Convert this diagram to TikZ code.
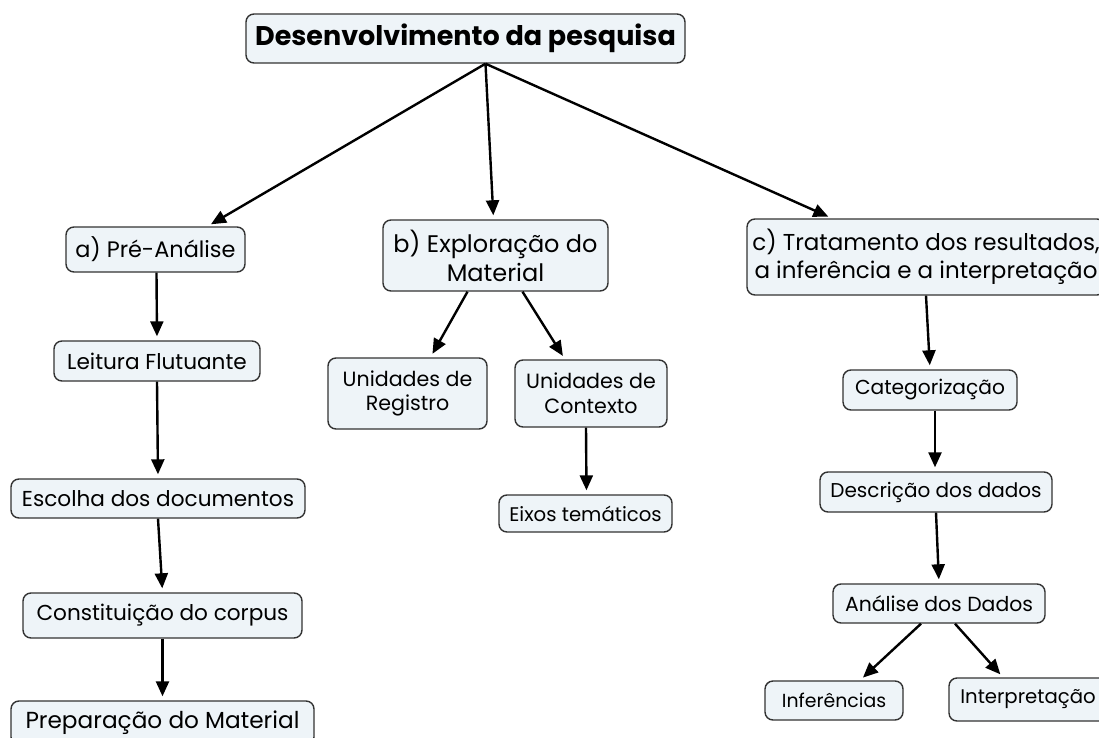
\documentclass[tikz,border=0pt]{standalone}
\usepackage{fontspec}
\setmainfont{Poppins}
\usetikzlibrary{arrows.meta,calc}
\definecolor{boxfill}{HTML}{EEF4F8}
\definecolor{boxline}{HTML}{333333}
\newcommand{\fsz}[1]{\fontsize{#1}{1.2\dimexpr#1pt\relax}\selectfont}
\tikzset{
  box/.style={draw=boxline, fill=boxfill, line width=1.4pt, rounded corners=8pt,
    inner sep=0pt, align=center},
  conn/.style={line width=2.4pt, -{Triangle[length=15pt,width=13pt]}, shorten >=4pt},
}
\begin{document}
\begin{tikzpicture}[x=1pt,y=-1pt]
\useasboundingbox (0,0) rectangle (1099,738);
\clip (0,0) rectangle (1099,738);
\fill[white] (0,0) rectangle (1099,738);
% nodes
\node[box, minimum width=439pt, minimum height=49pt, font=\fsz{27}\bfseries] (top) at (465.5,38.5) {Desenvolvimento da pesquisa};
\node[box, minimum width=179pt, minimum height=45pt, font=\fsz{22.4}] (a) at (155.5,249.5) {a) Pré-Análise};
\node[box, minimum width=206pt, minimum height=40pt, font=\fsz{21.6}] (lf) at (157,361) {Leitura Flutuante};
\node[box, minimum width=294pt, minimum height=39pt, font=\fsz{21.6}] (esc) at (158,498.5) {Escolha dos documentos};
\node[box, minimum width=279pt, minimum height=45pt, font=\fsz{21.6}] (con) at (162.5,615.5) {Constituição do corpus};
\node[box, minimum width=303pt, minimum height=44pt, font=\fsz{23.2}] (prep) at (162.5,723) {Preparação do Material};
\node[box, minimum width=225pt, minimum height=71pt, font=\fsz{24}] (b) at (495.5,255.5) {b) Exploração do\\Material};
\node[box, minimum width=159pt, minimum height=71pt, font=\fsz{20.6}] (reg) at (407.5,393.5) {Unidades de\\Registro};
\node[box, minimum width=152pt, minimum height=67pt, font=\fsz{20.6}] (ctx) at (591,393.5) {Unidades de\\Contexto};
\node[box, minimum width=173pt, minimum height=37pt, font=\fsz{19.7}] (eix) at (585.5,513.5) {Eixos temáticos};
\node[box, minimum width=358pt, minimum height=76pt, font=\fsz{23}] (c) at (926,257) {c) Tratamento dos resultados,\\a inferência e a interpretação};
\node[box, minimum width=174pt, minimum height=40pt, font=\fsz{20.2}] (cat) at (930,390) {Categorização};
\node[box, minimum width=232pt, minimum height=40pt, font=\fsz{20}] (des) at (936,492) {Descrição dos dados};
\node[box, minimum width=212pt, minimum height=39pt, font=\fsz{20.4}] (an) at (939,603.5) {Análise dos Dados};
\node[box, minimum width=138pt, minimum height=39pt, font=\fsz{18.9}] (inf) at (834,700.5) {Inferências};
\node[box, minimum width=158pt, minimum height=43pt, font=\fsz{19.7}] (int) at (1028,699.5) {Interpretação};
% connectors
\draw[conn] ([xshift=20pt]top.south) -- ([xshift=52pt]a.north);
\draw[conn] ([xshift=20pt]top.south) -- ([xshift=-2pt]b.north);
\draw[conn] ([xshift=20pt]top.south) -- ([xshift=-94pt]c.north);
\draw[conn] ([xshift=1pt]a.south) -- (lf.north);
\draw[conn] (lf.south) -- (esc.north);
\draw[conn] (esc.south) -- (con.north);
\draw[conn] (con.south) -- (prep.north);
\draw[conn] ([xshift=-28pt]b.south) -- ([xshift=23pt]reg.north);
\draw[conn] ([xshift=27pt]b.south) -- ([xshift=-26pt]ctx.north);
\draw[conn] ([xshift=-5pt]ctx.south) -- ([xshift=1pt]eix.north);
\draw[conn] (c.south) -- (cat.north);
\draw[conn] ([xshift=5pt]cat.south) -- ([xshift=-1pt]des.north);
\draw[conn] (des.south) -- (an.north);
\draw[conn] ([xshift=-18pt]an.south) -- ([xshift=26pt]inf.north);
\draw[conn] ([xshift=16pt]an.south) -- ([xshift=-25pt]int.north);
\end{tikzpicture}
\end{document}
